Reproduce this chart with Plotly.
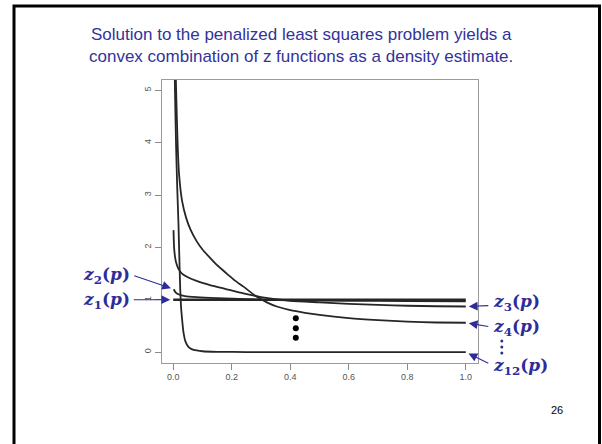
import plotly.graph_objects as go

# Density components z_k(p) on [0, 1]
p_z1 = [0.0, 1.0]
z1 = [1.0, 1.0]

p_z2 = [0.002, 0.008, 0.02, 0.04, 0.08, 0.15, 0.25, 0.4, 0.6, 0.8, 1.0]
z2 = [1.20, 1.14, 1.10, 1.07, 1.05, 1.03, 1.01, 0.99, 0.98, 0.975, 0.97]

p_z3 = [0.001, 0.003, 0.006, 0.01, 0.017, 0.03, 0.05, 0.08, 0.126, 0.183,
        0.24, 0.3, 0.4, 0.5, 0.6, 0.7, 0.8, 0.9, 1.0]
z3 = [2.33, 2.0, 1.83, 1.71, 1.6, 1.5, 1.43, 1.36, 1.28, 1.2,
      1.12, 1.05, 0.98, 0.95, 0.92, 0.9, 0.885, 0.875, 0.87]

p_z4 = [0.006, 0.01, 0.015, 0.02, 0.03, 0.045, 0.06, 0.08, 0.1, 0.126, 0.15,
        0.183, 0.21, 0.24, 0.285, 0.32, 0.354, 0.4, 0.45, 0.5, 0.6, 0.7,
        0.8, 0.9, 1.0]
z4 = [6.0, 5.0, 4.0, 3.4, 2.9, 2.55, 2.33, 2.12, 1.96, 1.8, 1.66,
      1.5, 1.37, 1.25, 1.06, 0.95, 0.87, 0.8, 0.75, 0.71, 0.65, 0.61,
      0.58, 0.565, 0.56]

p_z12 = [0.003, 0.006, 0.01, 0.014, 0.018, 0.021, 0.024, 0.027, 0.03, 0.035,
         0.042, 0.052, 0.065, 0.08, 0.1, 0.15, 0.25, 0.5, 1.0]
z12 = [6.2, 5.0, 3.9, 3.1, 2.45, 1.8, 1.2, 0.85, 0.65, 0.38,
       0.2, 0.1, 0.05, 0.03, 0.015, 0.005, 0.0, 0.0, 0.0]

x_ticks = [0.0, 0.2, 0.4, 0.6, 0.8, 1.0]
x_tick_text = ["0.0", "0.2", "0.4", "0.6", "0.8", "1.0"]
y_ticks = [0, 1, 2, 3, 4, 5]

# ellipsis dots between the plotted components
dots_mid_p = [0.419, 0.419, 0.419]
dots_mid_y = [0.644, 0.453, 0.273]

title_lines = [
    "Solution to the penalized least squares problem yields a",
    "convex combination of z functions as a density estimate.",
]
page_number = "26"

W, H = 602, 444
BLUE = "#2d2d9a"
CURVE = "#262626"


def px(xp):
    return xp / W


def py(yp):
    return 1 - yp / H


fig = go.Figure()

curves = [(p_z1, z1, 2.4), (p_z2, z2, 1.8), (p_z3, z3, 1.8),
          (p_z4, z4, 1.8), (p_z12, z12, 1.8)]
for xs, ys, lw in curves:
    fig.add_trace(go.Scatter(
        x=xs, y=ys, mode="lines",
        line=dict(color=CURVE, width=lw, shape="spline", smoothing=0.6),
        hoverinfo="skip", showlegend=False,
    ))

fig.add_trace(go.Scatter(
    x=dots_mid_p, y=dots_mid_y, mode="markers",
    marker=dict(color="black", size=6), showlegend=False, hoverinfo="skip",
))

axis_common = dict(
    showgrid=False, zeroline=False, showline=True, linecolor="#9a9a9a",
    linewidth=1, mirror=True, ticks="outside", ticklen=6, tickwidth=1,
    tickcolor="#8a8a8a", tickfont=dict(family="Liberation Sans", size=9,
                                       color="#555555"),
)

fig.update_layout(
    width=W, height=H,
    margin=dict(l=0, r=0, t=0, b=0),
    paper_bgcolor="white", plot_bgcolor="white",
    xaxis=dict(range=[-0.04, 1.04], domain=[px(161.5), px(477.5)],
               tickvals=x_ticks, ticktext=x_tick_text, **axis_common),
    yaxis=dict(range=[-0.2, 5.2], domain=[py(362.5), py(80)],
               tickvals=y_ticks, tickangle=-90, **axis_common),
    showlegend=False,
)

# slide frame
fig.add_shape(type="rect", xref="paper", yref="paper",
              x0=px(14), x1=px(599.5), y0=-0.05, y1=py(6),
              line=dict(color="black", width=3))

# vertical ellipsis under the z4 label
for yp in (341, 347, 353):
    fig.add_shape(type="circle", xref="paper", yref="paper",
                  x0=px(500.3), x1=px(503.3), y0=py(yp + 1.5), y1=py(yp - 1.5),
                  fillcolor=BLUE, line=dict(width=0))

# title
for i, line in enumerate(title_lines):
    fig.add_annotation(text=line, xref="paper", yref="paper",
                       x=px(301), y=py(23 + 22 * i), showarrow=False,
                       font=dict(family="Liberation Sans", size=17, color="#333399"))

fig.add_annotation(text=page_number, xref="paper", yref="paper",
                   x=px(565), y=py(418), showarrow=False,
                   font=dict(family="Liberation Sans", size=11, color="black"))


def label(sub):
    return "<b><i>z</i><sub>%s</sub>(<i>p</i>)</b>" % sub


# arrows pointing at curve ends; offsets in pixels from the tip
arrows = [
    (p_z1[0], z1[0], -41, 0),
    (p_z2[0], z2[0], -41, -14),
    (p_z3[-1], z3[-1], 24, -1),
    (p_z4[-1], z4[-1], 24, 4),
    (p_z12[-1], z12[-1], 24, 12),
]
for x, y, ax, ay in arrows:
    fig.add_annotation(x=x, y=y, ax=ax, ay=ay, text="", showarrow=True,
                       arrowhead=2, arrowsize=1.6, arrowwidth=1.1,
                       arrowcolor=BLUE, standoff=3)

labels = [
    ("1", 132, 300, "right"),
    ("2", 132, 275, "right"),
    ("3", 491, 302, "left"),
    ("4", 491, 327, "left"),
    ("12", 491, 366, "left"),
]
for sub, xp, yp, anchor in labels:
    fig.add_annotation(text=label(sub), xref="paper", yref="paper",
                       x=px(xp), y=py(yp), xanchor=anchor, yanchor="middle",
                       showarrow=False,
                       font=dict(family="DejaVu Serif", size=17, color=BLUE))

fig.write_html("out.html")
